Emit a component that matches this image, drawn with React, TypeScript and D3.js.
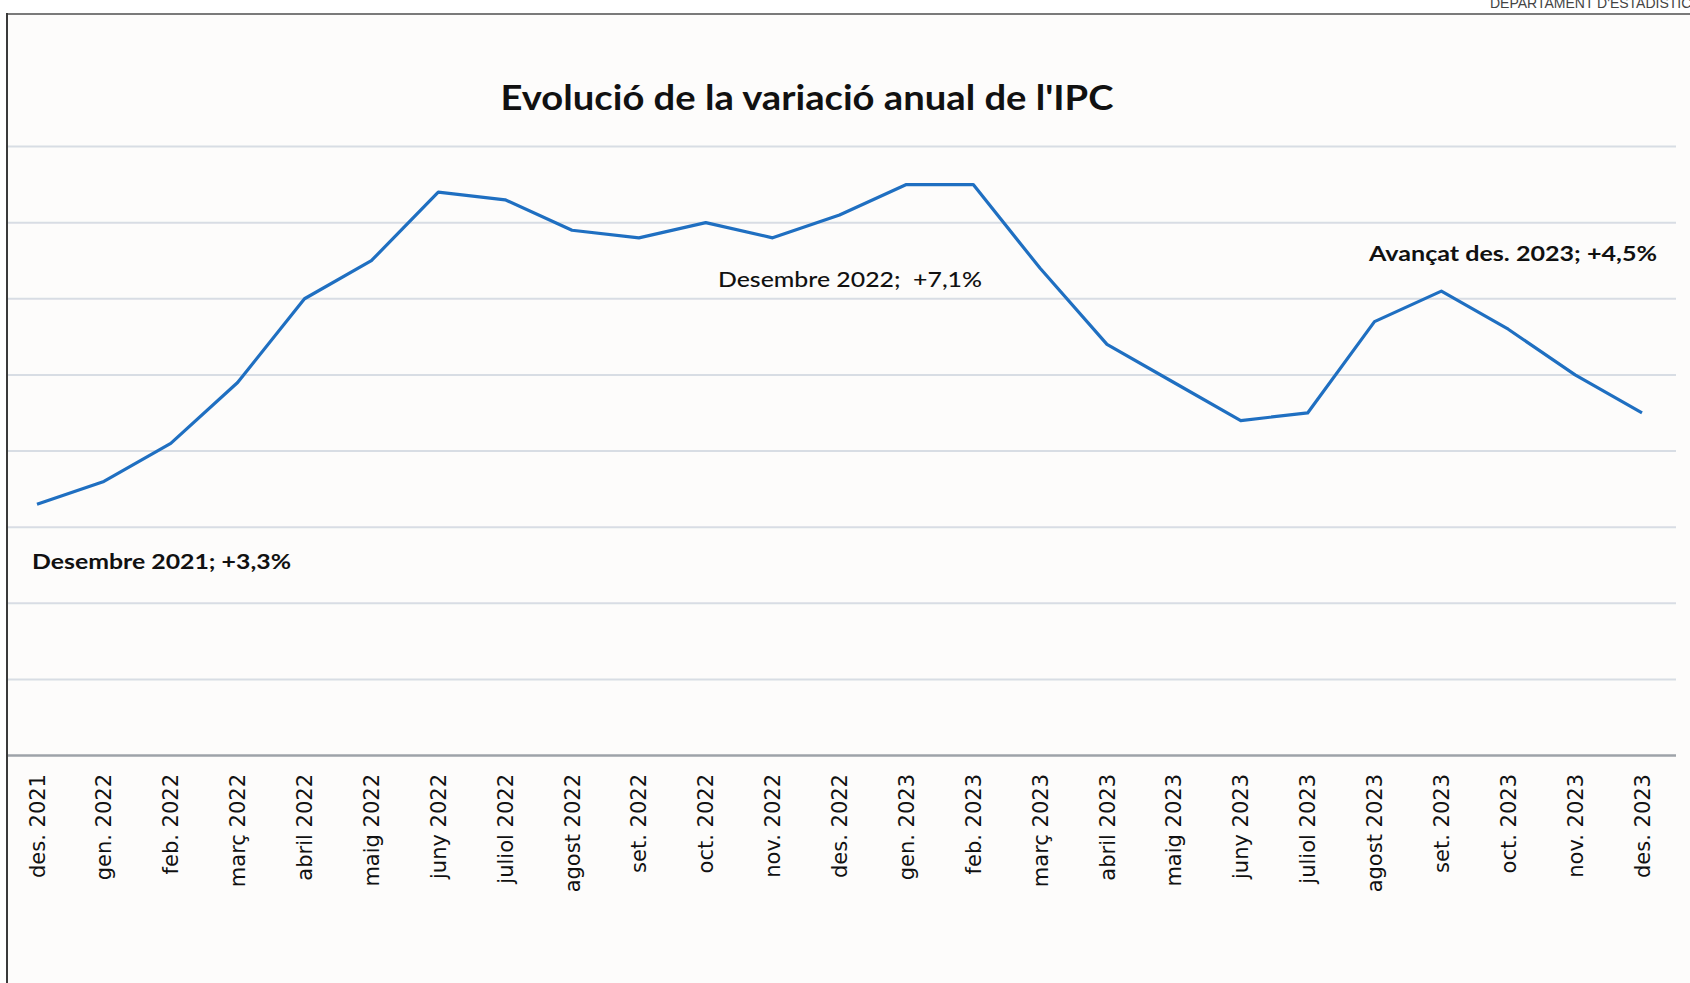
import { useEffect, useRef } from 'react';
import * as d3 from 'd3';

// month labels (x axis) and annual CPI variation, in %
const months = [
  'des. 2021', 'gen. 2022', 'feb. 2022', 'març 2022', 'abril 2022', 'maig 2022',
  'juny 2022', 'juliol 2022', 'agost 2022', 'set. 2022', 'oct. 2022', 'nov. 2022',
  'des. 2022', 'gen. 2023', 'feb. 2023', 'març 2023', 'abril 2023', 'maig 2023',
  'juny 2023', 'juliol 2023', 'agost 2023', 'set. 2023', 'oct. 2023', 'nov. 2023',
  'des. 2023',
];
const ipc = [
  3.3, 3.6, 4.1, 4.9, 6.0, 6.5, 7.4, 7.3, 6.9, 6.8, 7.0, 6.8,
  7.1, 7.5, 7.5, 6.4, 5.4, 4.9, 4.4, 4.5, 5.7, 6.1, 5.6, 5.0, 4.5,
];
const gridTicks = [0, 1, 2, 3, 4, 5, 6, 7, 8];

const annotations = [
  { text: 'Desembre 2021; +3,3%', x: 32, y: 569, w: 259, weight: 700 },
  { text: 'Desembre 2022;  +7,1%', x: 718, y: 287, w: 264, weight: 500 },
  { text: 'Avançat des. 2023; +4,5%', x: 1369, y: 261, w: 288, weight: 700 },
];

const App = () => {
  const svgRef = useRef<SVGSVGElement>(null);

  useEffect(() => {
    if (!svgRef.current) return;
    const svg = d3.select(svgRef.current);
    svg.selectAll('*').remove();

    const width = 1690;
    const height = 983;

    const x = d3.scalePoint<string>().domain(months).range([37, 1642]);
    const y = d3.scaleLinear().domain([0, 8]).range([755.5, 146.5]);

    // page + frame
    svg.append('rect').attr('width', width).attr('height', height).attr('fill', '#ffffff');
    svg.append('rect')
      .attr('x', 7).attr('y', 14)
      .attr('width', width - 7).attr('height', height - 14)
      .attr('fill', '#fdfcfb');

    // header text, cut by the page edge like in the scan
    svg.append('text')
      .attr('x', 1490).attr('y', 8)
      .style('font-family', '"Liberation Sans", Arial, sans-serif')
      .style('font-size', '14px')
      .attr('fill', '#444')
      .text("DEPARTAMENT D'ESTADÍSTICA");

    svg.append('line')
      .attr('x1', 7).attr('x2', width)
      .attr('y1', 14).attr('y2', 14)
      .attr('stroke', '#7a7a7a').attr('stroke-width', 2);
    svg.append('line')
      .attr('x1', 7).attr('x2', 7)
      .attr('y1', 13).attr('y2', height)
      .attr('stroke', '#3a3a3a').attr('stroke-width', 2);

    // gridlines
    svg.append('g')
      .selectAll('line')
      .data(gridTicks.filter(d => d > 0))
      .enter()
      .append('line')
      .attr('x1', 8).attr('x2', 1676)
      .attr('y1', d => y(d)).attr('y2', d => y(d))
      .attr('stroke', '#d8dde4').attr('stroke-width', 2);

    // x axis line
    svg.append('line')
      .attr('x1', 8).attr('x2', 1676)
      .attr('y1', y(0)).attr('y2', y(0))
      .attr('stroke', '#9ea3a9').attr('stroke-width', 2.5);

    // title
    svg.append('text')
      .attr('x', 807).attr('y', 110)
      .attr('text-anchor', 'middle')
      .attr('textLength', 613)
      .attr('lengthAdjust', 'spacingAndGlyphs')
      .style('font-family', 'Lato, "Open Sans", sans-serif')
      .style('font-weight', '700')
      .style('font-size', '34px')
      .attr('fill', '#111')
      .text("Evolució de la variació anual de l'IPC");

    // line
    const line = d3.line<number>()
      .x((_, i) => x(months[i]) as number)
      .y(d => y(d));

    svg.append('path')
      .datum(ipc)
      .attr('d', line)
      .attr('fill', 'none')
      .attr('stroke', '#1f6fc1')
      .attr('stroke-width', 3.2)
      .attr('stroke-linejoin', 'round');

    // x labels (rotated)
    svg.append('g')
      .selectAll('text')
      .data(months)
      .enter()
      .append('text')
      .attr('transform', d => `translate(${x(d)},774) rotate(-90)`)
      .attr('text-anchor', 'end')
      .attr('dy', '0.36em')
      .style('font-family', '"DejaVu Sans", Verdana, sans-serif')
      .style('font-size', '21px')
      .attr('fill', '#111')
      .text(d => d);

    // annotations
    svg.append('g')
      .selectAll('text')
      .data(annotations)
      .enter()
      .append('text')
      .attr('x', d => d.x).attr('y', d => d.y)
      .attr('textLength', d => d.w)
      .attr('lengthAdjust', 'spacingAndGlyphs')
      .style('font-family', 'Lato, "Open Sans", sans-serif')
      .style('font-weight', d => String(d.weight))
      .style('font-size', '21px')
      .style('white-space', 'pre')
      .attr('fill', '#111')
      .text(d => d.text);
  }, []);

  return (
    <svg
      ref={svgRef}
      width="1690"
      height="983"
      viewBox="0 0 1690 983"
      style={{ position: 'absolute', left: 0, top: 0, display: 'block' }}
    />
  );
};

export default App;
